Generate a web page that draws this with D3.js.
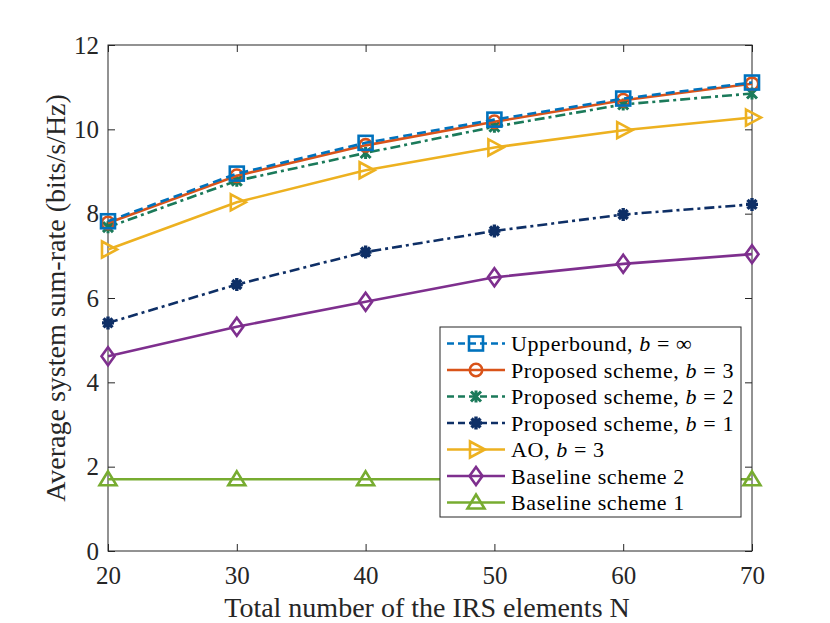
<!DOCTYPE html>
<html><head><meta charset="utf-8">
<script src="https://cdn.jsdelivr.net/npm/d3@7"></script>
<style>body{margin:0;background:#fff}svg{display:block}text{font-family:'Liberation Serif','Times New Roman',serif}</style>
</head><body><div id="chart"></div>
<script>
const xValues = [20, 30, 40, 50, 60, 70];
const upperbound = [7.82, 8.95, 9.68, 10.23, 10.73, 11.11];
const proposedB3 = [7.78, 8.90, 9.62, 10.18, 10.69, 11.08];
const proposedB2 = [7.68, 8.78, 9.44, 10.06, 10.59, 10.85];
const proposedB1 = [5.41, 6.32, 7.09, 7.59, 7.98, 8.22];
const aoB3 = [7.15, 8.27, 9.03, 9.57, 9.98, 10.28];
const baseline2 = [4.62, 5.32, 5.91, 6.49, 6.81, 7.04];
const baseline1 = [1.70, 1.70, 1.70, 1.70, 1.70, 1.70];
const xTicks = [20, 30, 40, 50, 60, 70];
const yTicks = [0, 2, 4, 6, 8, 10, 12];

const series = [
  {name: "Upperbound, ", math: "b = ∞", values: upperbound, color: "#0072BD", dash: "9,5", marker: "square"},
  {name: "Proposed scheme, ", math: "b = 3", values: proposedB3, color: "#D95319", dash: null, marker: "circle"},
  {name: "Proposed scheme, ", math: "b = 2", values: proposedB2, color: "#1B7A5A", dash: "10,4,3,4", marker: "x"},
  {name: "Proposed scheme, ", math: "b = 1", values: proposedB1, color: "#0E2F66", dash: "10,4,3,4", marker: "star"},
  {name: "AO, ", math: "b = 3", values: aoB3, color: "#EDB120", dash: null, marker: "tri-right"},
  {name: "Baseline scheme 2", math: "", values: baseline2, color: "#7E2F8E", dash: null, marker: "diamond"},
  {name: "Baseline scheme 1", math: "", values: baseline1, color: "#77AC30", dash: null, marker: "tri-up"}
];

const W = 830, H = 623;
const m = {left: 108, right: 78, top: 45, bottom: 72};
const svg = d3.select("#chart").append("svg").attr("width", W).attr("height", H);
const x = d3.scaleLinear().domain([20, 70]).range([m.left, W - m.right]);
const y = d3.scaleLinear().domain([0, 12]).range([H - m.bottom, m.top]);
const axisColor = "#262626";
const font = "'Liberation Serif', 'Times New Roman', serif";

const g = svg.append("g");
g.append("rect").attr("x", x(20)).attr("y", y(12)).attr("width", x(70) - x(20)).attr("height", y(0) - y(12))
  .attr("fill", "none").attr("stroke", axisColor).attr("stroke-width", 1);

const xa = g.append("g").attr("transform", `translate(0,${y(0)})`)
  .call(d3.axisBottom(x).tickValues(xTicks).tickSize(-7).tickPadding(15).tickFormat(d3.format("d")));
const xt = g.append("g").attr("transform", `translate(0,${y(12)})`)
  .call(d3.axisTop(x).tickValues(xTicks).tickSize(-7).tickFormat(""));
const ya = g.append("g").attr("transform", `translate(${x(20)},0)`)
  .call(d3.axisLeft(y).tickValues(yTicks).tickSize(-7).tickPadding(9).tickFormat(d3.format("d")));
const yr = g.append("g").attr("transform", `translate(${x(70)},0)`)
  .call(d3.axisRight(y).tickValues(yTicks).tickSize(-7).tickFormat(""));
[xa, xt, ya, yr].forEach(a => {
  a.attr("font-family", font).attr("font-size", 25);
  a.select(".domain").remove();
  a.selectAll("line").attr("stroke", axisColor);
  a.selectAll("text").attr("fill", axisColor).style("font-family", font).style("font-size", "25px");
});

svg.append("text").attr("x", (x(20) + x(70)) / 2 - 3).attr("y", 617).attr("text-anchor", "middle")
  .style("font-family", font).style("font-size", "28px").attr("fill", axisColor)
  .text("Total number of the IRS elements N");
svg.append("text").attr("transform", `translate(65,${(y(0) + y(12)) / 2}) rotate(-90)`).attr("text-anchor", "middle")
  .style("font-family", font).style("font-size", "28px").attr("fill", axisColor)
  .text("Average system sum-rate (bits/s/Hz)");

function drawMarker(sel, type, cx, cy, color) {
  const s = 7;
  const gm = sel.append("g").attr("transform", `translate(${cx},${cy})`)
    .attr("fill", "none").attr("stroke", color).attr("stroke-width", 2.6);
  if (type === "square") gm.append("rect").attr("x", -s).attr("y", -s).attr("width", 2 * s).attr("height", 2 * s);
  else if (type === "circle") gm.append("circle").attr("r", 6.2);
  else if (type === "x") {
    gm.append("path").attr("d", "M-5,-5L5,5M-5,5L5,-5M0,-6L0,6").attr("stroke-width", 3);
  } else if (type === "star") {
    gm.append("path").attr("d", "M-6,0L6,0M0,-6.5L0,6.5M-4.5,-4.5L4.5,4.5M-4.5,4.5L4.5,-4.5").attr("stroke-width", 3.4);
    gm.append("circle").attr("r", 3.5).attr("fill", color).attr("stroke", "none");
  } else if (type === "tri-right") gm.append("path").attr("d", "M-6,-8L9,0L-6,8Z");
  else if (type === "tri-up") gm.append("path").attr("d", "M0,-8L8.5,6L-8.5,6Z");
  else if (type === "diamond") gm.append("path").attr("d", "M0,-9L6.5,0L0,9L-6.5,0Z");
}

const line = d3.line().x((d, i) => x(xValues[i])).y(d => y(d));
const plot = svg.append("g");
series.slice().reverse().forEach(s => {
  plot.append("path").datum(s.values).attr("d", line).attr("fill", "none")
    .attr("stroke", s.color).attr("stroke-width", 2.6)
    .attr("stroke-dasharray", s.dash);
  s.values.forEach((v, i) => drawMarker(plot, s.marker, x(xValues[i]), y(v), s.color));
});

const lg = svg.append("g");
const lx = 440, ly = 327, lw = 301, lh = 190;
lg.append("rect").attr("x", lx).attr("y", ly).attr("width", lw).attr("height", lh)
  .attr("fill", "#fff").attr("stroke", axisColor).attr("stroke-width", 1);
series.forEach((s, i) => {
  const yy = 343.5 + i * 26.5;
  lg.append("line").attr("x1", 447).attr("x2", 505).attr("y1", yy).attr("y2", yy)
    .attr("stroke", s.color).attr("stroke-width", 2.6).attr("stroke-dasharray", s.dash ? "7,4" : null);
  drawMarker(lg, s.marker, 476, yy, s.color);
  const t = lg.append("text").attr("x", 511).attr("y", yy + 7.5).style("font-family", font)
    .style("font-size", "22px").style("letter-spacing", "0.6px").attr("fill", "#000");
  t.append("tspan").text(s.name);
  if (s.math) {
    t.append("tspan").style("font-style", "italic").text("b");
    t.append("tspan").text(s.math.slice(1));
  }
});
</script></body></html>
